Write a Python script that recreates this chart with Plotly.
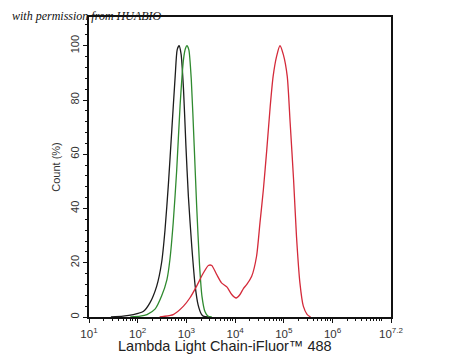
import plotly.graph_objects as go

# ---- data (x in log10 decades, y in % of max count) ----
black_logx = [1.45, 1.70, 1.91, 2.12, 2.25, 2.39, 2.49, 2.56, 2.63, 2.70, 2.77, 2.81, 2.85,
              2.89, 2.94, 2.99, 3.04, 3.11, 3.18, 3.24, 3.31, 3.36, 3.45]
black_y = [0, 0.3, 0.9, 2.1, 5.2, 11.4, 20, 32, 49, 69, 89, 98.5, 100,
           97, 84, 63, 44.5, 26, 11.4, 4.5, 1.0, 0.2, 0]

green_logx = [1.85, 2.05, 2.19, 2.36, 2.49, 2.60, 2.66, 2.73, 2.80, 2.87, 2.94, 2.98, 3.01,
              3.05, 3.10, 3.16, 3.21, 3.27, 3.32, 3.38, 3.44, 3.52]
green_y = [0, 0.3, 0.9, 3.0, 7.7, 13.8, 21, 35, 54, 78, 95, 99, 100,
           98.5, 87.5, 63, 41, 19, 7.5, 2.0, 0.4, 0]

red_logx = [2.45, 2.53, 2.73, 2.94, 3.07, 3.21, 3.35, 3.45, 3.52, 3.62, 3.72, 3.83, 3.93,
            4.02, 4.10, 4.17, 4.24, 4.34, 4.44, 4.51, 4.58, 4.65, 4.72, 4.78, 4.85,
            4.92, 4.99, 5.07, 5.13, 5.20, 5.26, 5.33, 5.40, 5.48, 5.55]
red_y = [0, 0.2, 0.9, 4, 7, 11.4, 16.3, 19, 19, 15.7, 12.6, 11.1, 8.3,
         7, 8.3, 10.5, 12, 15, 22.4, 34.7, 47, 61.7, 77.6, 88.7, 96,
         100, 96.7, 88.7, 71.5, 50.6, 29.7, 12.6, 4, 0.9, 0]

x_tick_exps = [1, 2, 3, 4, 5, 6, 7.2]
x_tick_text = ["10<sup>1</sup>", "10<sup>2</sup>", "10<sup>3</sup>", "10<sup>4</sup>",
               "10<sup>5</sup>", "10<sup>6</sup>", "10<sup>7.2</sup>"]
y_ticks = [0, 20, 40, 60, 80, 100]

x_title = "Lambda Light Chain-iFluor™ 488"
y_title = "Count (%)"
watermark = "with permission from HUABIO"

fig = go.Figure()
for lx, ly, col in [(black_logx, black_y, "#1c1c1c"),
                    (green_logx, green_y, "#2f8a2f"),
                    (red_logx, red_y, "#d42a3a")]:
    fig.add_trace(go.Scatter(x=[10 ** v for v in lx], y=ly, mode="lines",
                             line=dict(color=col, width=1.3, shape="spline", smoothing=0.6),
                             showlegend=False, hoverinfo="skip"))

minor_x = []
for d in range(1, 8):
    for m in range(2, 10):
        v = m * 10 ** d
        if v < 10 ** 7.2:
            minor_x.append(v)
minor_x.append(10 ** 7)

fig.update_layout(
    width=450, height=360,
    margin=dict(l=89, r=59, t=17, b=43),
    plot_bgcolor="white", paper_bgcolor="white",
    font=dict(family="Liberation Sans, Arial, sans-serif", color="#222"),
    xaxis=dict(type="log", range=[1, 7.2], showgrid=False, zeroline=False,
               showline=True, linecolor="#111", linewidth=1.5, mirror=True,
               ticks="outside", ticklen=4, tickwidth=1, tickcolor="#111",
               tickmode="array", tickvals=[10 ** e for e in x_tick_exps], ticktext=x_tick_text,
               tickfont=dict(size=11.5, color="#333"), ticklabelstandoff=1,
               minor=dict(ticks="outside", ticklen=2, tickwidth=1, tickcolor="#111",
                          tickmode="array", tickvals=minor_x, showgrid=False)),
    yaxis=dict(range=[0, 110.6], showgrid=False, zeroline=False,
               showline=True, linecolor="#111", linewidth=1.5, mirror=True,
               ticks="outside", ticklen=4, tickwidth=1, tickcolor="#111",
               tickmode="array", tickvals=y_ticks, tickangle=-90,
               tickfont=dict(size=11, color="#333"),
               minor=dict(ticks="outside", ticklen=2, tickwidth=1, tickcolor="#111",
                          dtick=4, showgrid=False),
               title=dict(text=y_title, font=dict(size=11, color="#333"), standoff=6)),
)

fig.add_annotation(text=x_title, xref="paper", yref="paper", x=(224.5 - 89) / 302,
                   y=-0.068, xanchor="center", yanchor="top", showarrow=False, borderpad=0,
                   font=dict(size=14.5, color="#222", family="Liberation Sans, Arial, sans-serif"))
fig.add_annotation(text="<i>" + watermark + "</i>", xref="paper", yref="paper",
                   x=(10 - 89) / 302, y=1.005, xanchor="left", yanchor="middle", showarrow=False,
                   font=dict(size=12, color="#111", family="Liberation Serif, serif"))

fig.write_html("out.html")
